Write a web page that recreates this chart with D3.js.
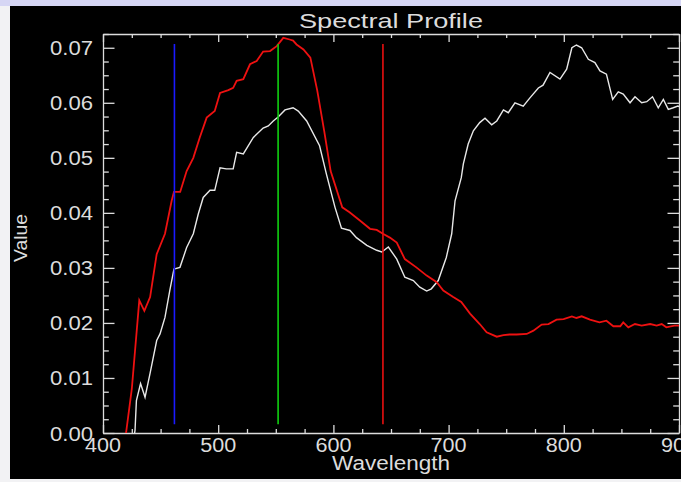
<!DOCTYPE html>
<html><head><meta charset="utf-8">
<script src="https://cdn.jsdelivr.net/npm/d3@7"></script>
<style>html,body{margin:0;padding:0;background:#f2f2f4;overflow:hidden}</style>
</head><body>
<svg id="chart" width="681" height="482"></svg>
<script>
const title = "Spectral Profile";
const xLabel = "Wavelength";
const yLabel = "Value";
const xTicks = [400, 500, 600, 700, 800, 900];
const yTicks = [0.00, 0.01, 0.02, 0.03, 0.04, 0.05, 0.06, 0.07];
const markerWavelengths = [462, 552, 643];
const markerColors = ["#1a1aff", "#10d010", "#e81010"];
const markerRange = [0.0016, 0.0707];

const redW = [418,420,425,431.5,435.9,440.9,446.6,453.8,459.6,461.6,467,472.6,478.4,484,490,497,501.6,508.8,513,516,521.8,527.6,533.4,539,545,550.8,556.5,562,565,568,574,580,586,592,597.6,607.7,614,623,631.8,637.6,643,649,655,662,672,681,689.7,695.4,704,711,718.6,727,733,741.8,747.6,753,759,767.8,773.6,780.8,786.7,793.7,799.8,807,811,815.5,822.7,831,837,843,849,851.6,856,861.8,867.6,875,880.6,885,889,896,900];
const redV = [-0.002,0.0,0.008,0.0241,0.0222,0.0247,0.0325,0.0362,0.0422,0.0438,0.0438,0.0476,0.050,0.0537,0.0573,0.0585,0.0618,0.0623,0.0627,0.064,0.0643,0.067,0.0676,0.0693,0.0694,0.0703,0.0718,0.0715,0.0713,0.0706,0.0697,0.0682,0.0622,0.0549,0.0476,0.041,0.0401,0.0386,0.0371,0.0369,0.0362,0.0355,0.0346,0.0316,0.0301,0.0286,0.0274,0.0259,0.0247,0.0238,0.0217,0.0198,0.0183,0.0175,0.0178,0.0179,0.0179,0.0180,0.0186,0.0197,0.0198,0.0206,0.0207,0.0212,0.0209,0.0212,0.0206,0.0201,0.0204,0.0194,0.0194,0.0201,0.0192,0.0198,0.0195,0.0198,0.0195,0.0198,0.0192,0.0195,0.0195];

const whiteW = [426,427.8,429,432.6,436.5,440.8,446.6,449.5,453.8,458,461.6,466.8,472.6,478.4,482.7,487,492.9,497,501.6,507,513,516,521.8,530.5,539,543.5,547.8,552,558,565,569.5,576.8,588,594,601.4,607,614.4,620,629,637.6,642,647.7,655,662,669.4,675,681,685,691,698,702.7,705.6,711,712.8,717,721.5,727,731.6,737.4,741.8,747.6,751.8,757.6,764.8,770.6,777.9,782,788,796.7,802.5,807,811,815.5,821.3,827,831.4,837,842.4,847.3,851.6,857.5,861.8,867.6,872,877,882,886.4,890.7,895,899,900];
const whiteV = [-0.002,0.0005,0.0059,0.009,0.0065,0.0108,0.0168,0.018,0.021,0.0259,0.0298,0.0301,0.0337,0.0362,0.0398,0.0428,0.0441,0.0441,0.0482,0.048,0.048,0.051,0.0507,0.0537,0.0554,0.0558,0.0567,0.0574,0.0587,0.0591,0.0585,0.0567,0.0522,0.047,0.041,0.0372,0.0368,0.0355,0.0341,0.0332,0.0329,0.0338,0.0316,0.0283,0.0277,0.0265,0.0258,0.0262,0.0277,0.0319,0.0362,0.0422,0.0464,0.0489,0.0525,0.0549,0.0564,0.0572,0.056,0.0567,0.0587,0.0582,0.06,0.0594,0.0609,0.0627,0.0632,0.0655,0.0643,0.0661,0.07,0.0705,0.07,0.0679,0.0673,0.0658,0.0652,0.0606,0.062,0.0616,0.06,0.0611,0.06,0.0602,0.0611,0.0591,0.0606,0.0588,0.0591,0.0594,0.0593];

const svg = d3.select("#chart");
const W = 681, H = 482;
svg.append("rect").attr("x",0).attr("y",0).attr("width",W).attr("height",H).attr("fill","#f2f2f4");
svg.append("rect").attr("x",0).attr("y",0).attr("width",W).attr("height",6).attr("fill","#d6d6f4");
svg.append("rect").attr("x",10).attr("y",6).attr("width",W-10).attr("height",473).attr("fill","#000");

const m = {l:103, r:679, t:34, b:433};
const x = d3.scaleLinear().domain([400,900]).range([m.l, m.r]);
const y = d3.scaleLinear().domain([0,0.0725]).range([m.b, m.t]);
const fg = "#dcdcdc";
const font = "'Liberation Sans', 'DejaVu Sans', sans-serif";

svg.append("clipPath").attr("id","pc").append("rect")
  .attr("x",m.l).attr("y",m.t).attr("width",m.r-m.l).attr("height",m.b-m.t);

const xMinor = d3.range(400, 901, 25);
const yMinor = d3.range(0, 0.0726, 0.0025);
function axisX(yPos, dir){
  const g = svg.append("g").attr("transform",`translate(0,${yPos})`);
  g.call((dir>0? d3.axisTop(x) : d3.axisBottom(x)).tickValues(xMinor).tickSize(0).tickFormat(""));
  g.select(".domain").attr("stroke",fg).attr("stroke-width",1.3);
  g.selectAll(".tick line").attr("stroke",fg).attr("stroke-width",1.3)
    .attr("y2", d => (xTicks.includes(Math.round(d)) ? 8 : 4) * -dir);
}
axisX(m.b, 1);
axisX(m.t, -1);
function axisY(xPos, dir){
  const g = svg.append("g").attr("transform",`translate(${xPos},0)`);
  g.call(d3.axisRight(y).tickValues(yMinor).tickSize(0).tickFormat(""));
  g.select(".domain").attr("stroke",fg).attr("stroke-width",1.3);
  g.selectAll(".tick line").attr("stroke",fg).attr("stroke-width",1.3)
    .attr("x2", d => (Math.abs(d*100 - Math.round(d*100)) < 1e-6 ? 11.5 : 5.8) * dir);
}
axisY(m.l, 1);
axisY(m.r, -1);

svg.append("g").selectAll("text").data(xTicks).join("text")
  .attr("x", d => x(d)).attr("y", 452).attr("text-anchor","middle")
  .attr("font-family",font).attr("font-size",20).attr("fill",fg)
  .attr("textLength",36).attr("lengthAdjust","spacingAndGlyphs").text(d => d);
svg.append("g").selectAll("text").data(yTicks).join("text")
  .attr("x", 93).attr("y", d => y(d) + 7.5).attr("text-anchor","end")
  .attr("font-family",font).attr("font-size",20).attr("fill",fg)
  .attr("textLength",43).attr("lengthAdjust","spacingAndGlyphs").text(d => d3.format(".2f")(d));

svg.append("text").attr("x",(m.l+m.r)/2).attr("y",28).attr("text-anchor","middle")
  .attr("font-family",font).attr("font-size",21).attr("fill",fg)
  .attr("textLength",184).attr("lengthAdjust","spacingAndGlyphs").text(title);
svg.append("text").attr("x",(m.l+m.r)/2).attr("y",470).attr("text-anchor","middle")
  .attr("font-family",font).attr("font-size",20).attr("fill",fg)
  .attr("textLength",118).attr("lengthAdjust","spacingAndGlyphs").text(xLabel);
svg.append("text").attr("transform","translate(27,238) rotate(-90)").attr("text-anchor","middle")
  .attr("font-family",font).attr("font-size",19).attr("fill",fg)
  .attr("textLength",48).attr("lengthAdjust","spacingAndGlyphs").text(yLabel);

const plot = svg.append("g").attr("clip-path","url(#pc)");
const line = d3.line().x(d => x(d[0])).y(d => y(d[1]));
plot.append("path").datum(whiteW.map((w,i)=>[w,whiteV[i]]))
  .attr("d", line).attr("fill","none").attr("stroke","#e8e8e8").attr("stroke-width",1.4);
plot.append("path").datum(redW.map((w,i)=>[w,redV[i]]))
  .attr("d", line).attr("fill","none").attr("stroke","#ee1111").attr("stroke-width",1.8);

plot.selectAll("line.mk").data(markerWavelengths).join("line").attr("class","mk")
  .attr("x1", d => x(d)).attr("x2", d => x(d))
  .attr("y1", y(markerRange[0])).attr("y2", y(markerRange[1]))
  .attr("stroke", (d,i) => markerColors[i]).attr("stroke-width",1.6);
</script>
</body></html>
